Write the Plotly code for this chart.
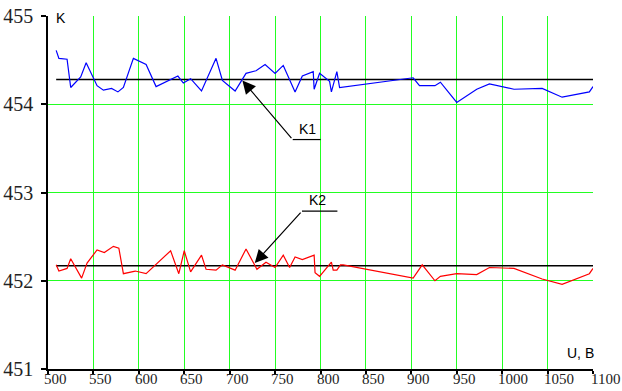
import plotly.graph_objects as go

# ---- data ----
u_k1 = [509, 512, 521, 525, 536, 542, 554, 561, 570, 577, 583, 594, 608, 619, 643, 649, 657,
        669, 685, 692, 706, 718, 729, 739, 750, 759, 772, 780, 792, 793, 799, 810, 812, 818,
        821, 902, 909, 926, 932, 950, 972, 986, 1013, 1044, 1066, 1096, 1100]
k1 = [454.61, 454.52, 454.51, 454.19, 454.31, 454.47, 454.21, 454.16, 454.18, 454.14, 454.19,
      454.52, 454.45, 454.20, 454.32, 454.24, 454.29, 454.15, 454.52, 454.27, 454.15, 454.35,
      454.38, 454.45, 454.35, 454.44, 454.14, 454.32, 454.37, 454.17, 454.35, 454.26, 454.14,
      454.37, 454.19, 454.30, 454.21, 454.21, 454.25, 454.02, 454.17, 454.23, 454.17, 454.18,
      454.08, 454.14, 454.20]

u_k2 = [509, 512, 521, 525, 537, 543, 554, 562, 572, 578, 583, 596, 608, 635, 644, 650, 657,
        669, 674, 685, 692, 706, 718, 730, 740, 750, 759, 766, 772, 780, 793, 794, 799, 812,
        814, 818, 822, 825, 902, 912, 926, 932, 950, 972, 986, 1013, 1044, 1066, 1096, 1100]
k2 = [452.18, 452.11, 452.14, 452.25, 452.03, 452.20, 452.35, 452.32, 452.39, 452.37, 452.08,
      452.11, 452.08, 452.34, 452.08, 452.34, 452.10, 452.29, 452.13, 452.12, 452.18, 452.12,
      452.36, 452.13, 452.21, 452.15, 452.29, 452.15, 452.27, 452.24, 452.29, 452.09, 452.05,
      452.21, 452.12, 452.12, 452.18, 452.18, 452.03, 452.18, 452.00, 452.05, 452.08, 452.07,
      452.15, 452.14, 452.02, 451.96, 452.08, 452.14]

mean_u = [509, 1101]
mean_k1 = [454.28, 454.28]
mean_k2 = [452.17, 452.17]

x_ticks = [500, 550, 600, 650, 700, 750, 800, 850, 900, 950, 1000, 1050, 1100]
x_ticklabels = [str(v) for v in x_ticks]
y_ticks = [451, 452, 453, 454, 455]
y_ticklabels = [str(v) for v in y_ticks]

GRID = "#22ff22"
SERIF = "Liberation Serif"
SANS = "Liberation Sans"

fig = go.Figure()
fig.add_trace(go.Scatter(x=mean_u, y=mean_k1, mode="lines",
                         line=dict(color="black", width=1.5), cliponaxis=False))
fig.add_trace(go.Scatter(x=mean_u, y=mean_k2, mode="lines",
                         line=dict(color="black", width=1.5), cliponaxis=False))
fig.add_trace(go.Scatter(x=u_k1, y=k1, mode="lines", line=dict(color="#0000ff", width=1.2)))
fig.add_trace(go.Scatter(x=u_k2, y=k2, mode="lines", line=dict(color="#ff0000", width=1.2)))

fig.update_layout(
    width=622, height=391,
    margin=dict(l=48, r=29, t=16, b=22, autoexpand=False),
    paper_bgcolor="white", plot_bgcolor="white",
    showlegend=False,
    xaxis=dict(range=[500, 1100], tickmode="array", tickvals=x_ticks,
               showticklabels=False,
               showgrid=True, gridcolor=GRID, gridwidth=1,
               showline=True, linecolor="black", linewidth=1.5,
               ticks="outside", ticklen=3, tickcolor="black", tickwidth=1.5,
               automargin=False, zeroline=False),
    yaxis=dict(range=[451, 455], tickmode="array", tickvals=y_ticks, ticktext=y_ticklabels,
               showgrid=True, gridcolor=GRID, gridwidth=1,
               showline=True, linecolor="black", linewidth=1.5,
               ticks="outside", ticklen=5, tickcolor="black", tickwidth=1.5,
               ticklabelstandoff=4, automargin=False,
               tickfont=dict(family=SERIF, size=20, color="#222"), zeroline=False),
)

# x tick labels (left-aligned at their ticks, last one kept inside the page)
for i, (v, lab) in enumerate(zip(x_ticks, x_ticklabels)):
    last = i == len(x_ticks) - 1
    fig.add_annotation(x=v, y=451, xref="x", yref="y", text=lab, showarrow=False,
                       xanchor="right" if last else "left", yanchor="top",
                       xshift=28 if last else -5, yshift=-1, borderpad=0,
                       font=dict(family=SERIF, size=15, color="#222"))

# axis titles
fig.add_annotation(x=500, y=455, xref="x", yref="y", text="K", showarrow=False,
                   xanchor="left", yanchor="middle", xshift=6, yshift=-2,
                   font=dict(family=SANS, size=14, color="black"))
fig.add_annotation(x=1100, y=451, xref="x", yref="y", text="U, B", showarrow=False,
                   xanchor="right", yanchor="bottom", xshift=3, yshift=6,
                   font=dict(family=SANS, size=14, color="black"))

# K1 callout
fig.add_annotation(x=714, y=454.27, ax=769.4, ay=453.60, axref="x", ayref="y",
                   xref="x", yref="y", text="", showarrow=True, arrowhead=2,
                   arrowsize=2.2, arrowwidth=1.2, arrowcolor="black")
fig.add_shape(type="line", x0=769.4, y0=453.60, x1=800.2, y1=453.60,
              line=dict(color="black", width=1.2))
fig.add_annotation(x=785.4, y=453.60, text="K1", showarrow=False, yanchor="bottom",
                   xanchor="center", yshift=1, font=dict(family=SANS, size=14, color="black"))

# K2 callout
fig.add_annotation(x=727.6, y=452.20, ax=779.6, ay=452.79, axref="x", ayref="y",
                   xref="x", yref="y", text="", showarrow=True, arrowhead=2,
                   arrowsize=2.2, arrowwidth=1.2, arrowcolor="black")
fig.add_shape(type="line", x0=779.6, y0=452.79, x1=818.6, y1=452.79,
              line=dict(color="black", width=1.2))
fig.add_annotation(x=797, y=452.79, text="K2", showarrow=False, yanchor="bottom",
                   xanchor="center", yshift=1, font=dict(family=SANS, size=14, color="black"))

fig.write_html("out.html")
